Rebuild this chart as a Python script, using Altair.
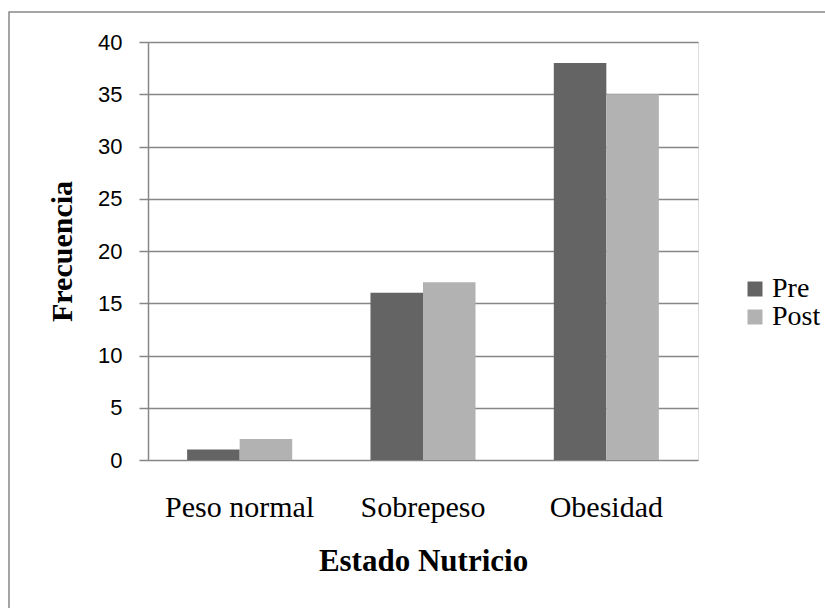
import altair as alt
import pandas as pd

categories = ["Peso normal", "Sobrepeso", "Obesidad"]
pre_values = [1, 16, 38]
post_values = [2, 17, 35]
series = ["Pre", "Post"]
colors = ["#646464", "#b2b2b2"]
y_ticks = [0, 5, 10, 15, 20, 25, 30, 35, 40]

rows = []
for c, a, b in zip(categories, pre_values, post_values):
    rows.append({"cat": c, "serie": "Pre", "val": a})
    rows.append({"cat": c, "serie": "Post", "val": b})
df = pd.DataFrame(rows)

W, H = 550, 418
L, T = 148, 42

bars = alt.Chart(df).mark_bar(strokeWidth=0).encode(
    x=alt.X("cat:N", sort=categories,
            scale=alt.Scale(paddingInner=0.427, paddingOuter=0.2135),
            axis=alt.Axis(title="Estado Nutricio", labelAngle=0, ticks=False,
                          domain=False, grid=False,
                          labelFont="Liberation Serif", labelFontSize=30,
                          labelColor="#000000", labelPadding=32,
                          titleFont="Liberation Serif", titleFontSize=31,
                          titleFontWeight="bold", titleColor="#000000",
                          titlePadding=24)),
    xOffset=alt.XOffset("serie:N", sort=series),
    y=alt.Y("val:Q", scale=alt.Scale(domain=[0, 40], nice=False),
            axis=alt.Axis(title="Frecuencia", values=y_ticks,
                          labelOverlap=False, grid=True, gridColor="#868686",
                          gridWidth=1.5, domain=True, domainColor="#868686",
                          domainWidth=1.5, ticks=True, tickColor="#868686",
                          tickWidth=1.5, tickSize=9,
                          labelFont="Liberation Sans", labelFontSize=22,
                          labelColor="#000000", labelPadding=17,
                          titleFont="Liberation Serif", titleFontSize=30,
                          titleFontWeight="bold", titleColor="#000000",
                          titleX=-86, titleY=H / 2, titleBaseline="middle",
                          titleAlign="center", titleAngle=270)),
    color=alt.Color("serie:N", sort=series,
                    scale=alt.Scale(domain=series, range=colors),
                    legend=alt.Legend(title=None, orient="none",
                                      legendX=593, legendY=233,
                                      symbolType="square", symbolSize=225,
                                      symbolStrokeWidth=0,
                                      labelFont="Liberation Serif",
                                      labelFontSize=28, labelColor="#000000",
                                      labelOffset=3, rowPadding=-7)),
)

frame = alt.Chart(pd.DataFrame({"k": [0]})).mark_rect(
    fill=None, stroke="#888888", strokeWidth=1.5
).encode(
    x=alt.value(9 - L), x2=alt.value(900), y=alt.value(12 - T), y2=alt.value(700)
)

chart = alt.layer(frame, bars).properties(
    width=W, height=H,
    autosize=alt.AutoSizeParams(type="none"),
    padding={"left": L, "top": T, "right": 825 - L - W, "bottom": 608 - T - H},
).configure_view(stroke=None).configure(background="#ffffff")

chart.save("out.html", embed_options={"renderer": "svg", "actions": False})
